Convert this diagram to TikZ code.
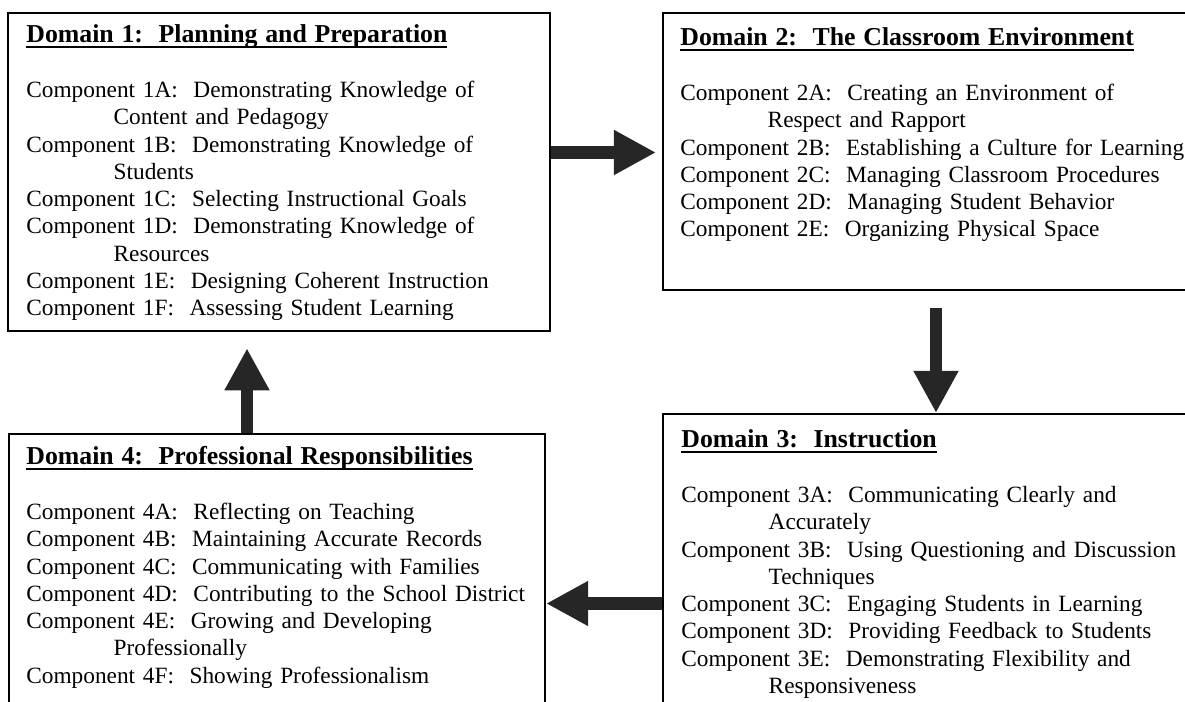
\documentclass[tikz,border=0pt]{standalone}
\usepackage{fontspec}
\setmainfont{Liberation Serif}
\usetikzlibrary{arrows.meta,positioning}

\newcommand{\dhead}[1]{\setbox0\hbox{\fontsize{13}{13.75}\selectfont\bfseries #1}%
  \rlap{\rule[-2.4pt]{\wd0}{1pt}}\box0}
\newcommand{\comp}[2]{Component #1:\ \ #2}
\newcommand{\cont}[1]{\hspace*{44pt}#1}

\begin{document}
\begin{tikzpicture}[
    x=0.504pt, y=-0.504pt,
    dbox/.style={
    rectangle,
    draw=black,
    line width=1.1pt,
    inner sep=0pt,
    anchor=north west},
    dtext/.style={
    anchor=base west,
    align=left,
    inner sep=0pt,
    text width=290pt,
    font=\fontsize{11.75}{13.75}\selectfont},
    bigarrow/.style={
    draw=black!85,
    line width=6.5pt,
    -{Triangle[length=21.2pt,width=21.2pt]}}
    ]
    \useasboundingbox (0,0) rectangle (1185,702);
    \clip (0,0) rectangle (1185,702);

    % domain boxes
    \node[dbox, minimum width=273.2pt, minimum height=160.3pt] (d1) at (7,12) {};
    \node[dbox, minimum width=282.2pt, minimum height=139.6pt] (d2) at (662,12) {};
    \node[dbox, minimum width=282.2pt, minimum height=156.2pt] (d3) at (662,413) {};
    \node[dbox, minimum width=270.1pt, minimum height=146.2pt] (d4) at (8,433) {};

    % texts
    \node[dtext] (t1) at ([shift={(19,31)}]d1.north west) {%
        \dhead{Domain 1:\ \ Planning and Preparation}\\[13.75pt]
        \comp{1A}{Demonstrating Knowledge of}\\
        \cont{Content and Pedagogy}\\
        \comp{1B}{Demonstrating Knowledge of}\\
        \cont{Students}\\
        \comp{1C}{Selecting Instructional Goals}\\
        \comp{1D}{Demonstrating Knowledge of}\\
        \cont{Resources}\\
        \comp{1E}{Designing Coherent Instruction}\\
        \comp{1F}{Assessing Student Learning}};
    \node[dtext] (t2) at ([shift={(18,34)}]d2.north west) {%
        \dhead{Domain 2:\ \ The Classroom Environment}\\[13.75pt]
        \comp{2A}{Creating an Environment of}\\
        \cont{Respect and Rapport}\\
        \comp{2B}{Establishing a Culture for Learning}\\
        \comp{2C}{Managing Classroom Procedures}\\
        \comp{2D}{Managing Student Behavior}\\
        \comp{2E}{Organizing Physical Space}};
    \node[dtext] (t3) at ([shift={(19,35)}]d3.north west) {%
        \dhead{Domain 3:\ \ Instruction}\\[13.75pt]
        \comp{3A}{Communicating Clearly and}\\
        \cont{Accurately}\\
        \comp{3B}{Using Questioning and Discussion}\\
        \cont{Techniques}\\
        \comp{3C}{Engaging Students in Learning}\\
        \comp{3D}{Providing Feedback to Students}\\
        \comp{3E}{Demonstrating Flexibility and}\\
        \cont{Responsiveness}};
    \node[dtext] (t4) at ([shift={(18,32)}]d4.north west) {%
        \dhead{Domain 4:\ \ Professional Responsibilities}\\[13.75pt]
        \comp{4A}{Reflecting on Teaching}\\
        \comp{4B}{Maintaining Accurate Records}\\
        \comp{4C}{Communicating with Families}\\
        \comp{4D}{Contributing to the School District}\\
        \comp{4E}{Growing and Developing}\\
        \cont{Professionally}\\
        \comp{4F}{Showing Professionalism}};

    % cycle arrows
    \draw[bigarrow] ([shift={(0,140.5)}]d1.north east) -- ([shift={(-6,140.5)}]d2.north west);
    \draw[bigarrow] ([shift={(274,17)}]d2.south west) -- ([shift={(274,0)}]d3.north west);
    \draw[bigarrow] ([shift={(0,190.5)}]d3.north west) -- ([shift={(0,170.5)}]d4.north east);
    \draw[bigarrow] ([shift={(239,0)}]d4.north west) -- ([shift={(240,16)}]d1.south west);
\end{tikzpicture}
\end{document}
